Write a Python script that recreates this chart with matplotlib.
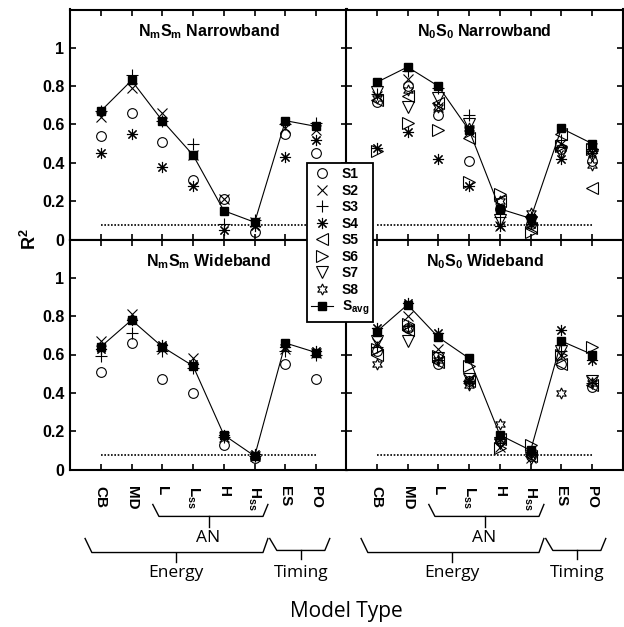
import numpy as np
import matplotlib
matplotlib.use("Agg")
import matplotlib.pyplot as plt
from matplotlib.lines import Line2D

plt.rcParams["font.family"] = ["Liberation Sans", "DejaVu Sans"]
plt.rcParams["mathtext.fontset"] = "custom"
plt.rcParams["mathtext.rm"] = "Liberation Sans"
plt.rcParams["mathtext.bf"] = "Liberation Sans:bold"
plt.rcParams["mathtext.it"] = "Liberation Sans:italic"

# model types on the x axis
models = ["CB", "MD", "L", r"L$_\mathbf{ss}$", "H", r"H$_\mathbf{ss}$", "ES", "PO"]
subjects = ["S1", "S2", "S3", "S4", "S5", "S6", "S7", "S8"]
chance = 0.077

# NmSm narrowband (S1-S4 only)
nm_narrow = [
    [0.54, 0.66, 0.51, 0.31, 0.21, 0.04, 0.55, 0.45],
    [0.64, 0.79, 0.66, 0.44, 0.21, 0.09, 0.58, 0.57],
    [0.67, 0.86, 0.62, 0.50, 0.08, 0.10, 0.60, 0.61],
    [0.45, 0.55, 0.38, 0.28, 0.05, 0.07, 0.43, 0.52],
]
nm_narrow_avg = [0.67, 0.83, 0.62, 0.44, 0.15, 0.09, 0.62, 0.59]

# NmSm wideband (S1-S4 only)
nm_wide = [
    [0.51, 0.66, 0.47, 0.40, 0.13, 0.06, 0.55, 0.47],
    [0.67, 0.81, 0.63, 0.58, 0.17, 0.07, 0.63, 0.61],
    [0.59, 0.71, 0.62, 0.53, 0.17, 0.07, 0.62, 0.60],
    [0.63, 0.78, 0.65, 0.55, 0.18, 0.08, 0.64, 0.62],
]
nm_wide_avg = [0.64, 0.78, 0.64, 0.54, 0.18, 0.07, 0.66, 0.61]

# N0S0 narrowband
n0_narrow = [
    [0.72, 0.80, 0.65, 0.41, 0.16, 0.08, 0.47, 0.41],
    [0.75, 0.84, 0.69, 0.56, 0.07, 0.10, 0.50, 0.48],
    [0.76, 0.88, 0.79, 0.65, 0.12, 0.12, 0.52, 0.46],
    [0.48, 0.56, 0.42, 0.28, 0.07, 0.08, 0.42, 0.45],
    [0.73, 0.75, 0.71, 0.53, 0.20, 0.06, 0.55, 0.27],
    [0.46, 0.61, 0.57, 0.30, 0.24, 0.04, 0.49, 0.47],
    [0.77, 0.69, 0.74, 0.60, 0.10, 0.09, 0.45, 0.44],
    [0.74, 0.78, 0.69, 0.58, 0.20, 0.14, 0.48, 0.39],
]
n0_narrow_avg = [0.82, 0.90, 0.80, 0.57, 0.16, 0.11, 0.58, 0.50]

# N0S0 wideband
n0_wide = [
    [0.62, 0.74, 0.55, 0.46, 0.15, 0.07, 0.55, 0.43],
    [0.66, 0.80, 0.63, 0.47, 0.12, 0.06, 0.60, 0.46],
    [0.64, 0.75, 0.57, 0.45, 0.14, 0.08, 0.62, 0.45],
    [0.74, 0.87, 0.71, 0.46, 0.16, 0.08, 0.73, 0.57],
    [0.60, 0.73, 0.56, 0.46, 0.16, 0.07, 0.55, 0.44],
    [0.63, 0.76, 0.59, 0.54, 0.11, 0.13, 0.60, 0.64],
    [0.67, 0.67, 0.58, 0.47, 0.14, 0.06, 0.62, 0.46],
    [0.55, 0.74, 0.57, 0.44, 0.24, 0.09, 0.40, 0.45],
]
n0_wide_avg = [0.72, 0.86, 0.69, 0.58, 0.18, 0.10, 0.67, 0.60]

titles = [r"N$_\mathbf{m}$S$_\mathbf{m}$ Narrowband", r"N$_\mathbf{0}$S$_\mathbf{0}$ Narrowband",
          r"N$_\mathbf{m}$S$_\mathbf{m}$ Wideband", r"N$_\mathbf{0}$S$_\mathbf{0}$ Wideband"]
panels = [(nm_narrow, nm_narrow_avg), (n0_narrow, n0_narrow_avg),
          (nm_wide, nm_wide_avg), (n0_wide, n0_wide_avg)]

# marker look for each subject
mk = ["o", "x", "+", (8, 2, 0), "<", ">", "v", (6, 1, 0)]
ms = [7, 6.5, 8, 8, 8, 8, 8, 8]

fig = plt.figure(figsize=(6.24, 6.27), dpi=100)
L, M, W = 70 / 624, 346 / 624, 277 / 624
H = 230 / 627
B_top = 1 - 239.5 / 627
pos = [(L, B_top), (M, B_top), (L, B_top - H), (M, B_top - H)]

x = np.arange(1, 9)
axes = []
for i, ((sub, avg), title) in enumerate(zip(panels, titles)):
    ax = fig.add_axes([pos[i][0], pos[i][1], W, H])
    axes.append(ax)
    ax.plot([1, 8], [chance, chance], color="k", lw=1.2, ls=(0, (1, 1)))
    for j, vals in enumerate(sub):
        ax.plot(x, vals, ls="none", marker=mk[j], ms=ms[j], mfc="none",
                mec="k", mew=0.8, color="k")
    ax.plot(x, avg, color="k", lw=0.8, marker="s", ms=6, mfc="k", mec="k")
    ax.text(4.5, 1.06, title, ha="center", va="baseline", fontsize=11.5, fontweight="bold")
    ax.set_xlim(0, 9)
    ax.set_ylim(0, 1.2)
    ax.set_xticks(x)
    ax.set_yticks([0, 0.2, 0.4, 0.6, 0.8, 1.0])
    ax.tick_params(direction="in", length=4, width=1.2, top=True, right=True)
    for s in ax.spines.values():
        s.set_linewidth(1.5)
    if i % 2 == 0:
        ax.set_yticklabels(["0", "0.2", "0.4", "0.6", "0.8", "1"], fontsize=11.5, fontweight="bold")
        ax.tick_params(axis="y", pad=4)
    else:
        ax.set_yticklabels([])
    if i >= 2:
        ax.set_xticklabels(models, rotation=-90, fontsize=11, fontweight="bold")
        ax.tick_params(axis="x", pad=12)
    else:
        ax.set_xticklabels([])


def bracket(ax, xa, xb, xc, xd, xm, yt, yh, yk, label, ylab):
    tr = ax.get_xaxis_transform()
    ax.plot([xa, xb, xc, xd], [yt, yh, yh, yt], color="k", lw=1, transform=tr, clip_on=False)
    ax.plot([xm, xm], [yh, yk], color="k", lw=1, transform=tr, clip_on=False)
    ax.text(xm, ylab, label, transform=tr, ha="center", va="center",
            fontsize=12.5, family=["Open Sans", "DejaVu Sans"])


for ax in axes[2:]:
    bracket(ax, 2.69, 2.89, 6.27, 6.43, 4.5, -0.152, -0.204, -0.248, "AN", -0.296)
    bracket(ax, 0.49, 0.71, 6.27, 6.43, 3.45, -0.30, -0.361, -0.40, "Energy", -0.448)
    bracket(ax, 6.49, 6.72, 8.28, 8.44, 7.5, -0.30, -0.352, -0.39, "Timing", -0.448)

fig.text(0.048, B_top, r"R$^\mathbf{2}$", rotation=90, ha="center", va="center",
         fontsize=13, fontweight="bold")
fig.text(M, 1 - 612 / 627, "Model Type", ha="center", va="center", fontsize=15,
         family=["Open Sans", "DejaVu Sans"])

handles = [Line2D([], [], ls="none", marker=mk[j], ms=ms[j], mfc="none", mec="k", mew=0.8)
           for j in range(8)]
handles.append(Line2D([], [], color="k", lw=0.8, marker="s", ms=6, mfc="k", mec="k"))
labels = subjects + [r"S$_\mathbf{avg}$"]
leg = fig.legend(handles, labels, loc="upper left", bbox_to_anchor=(307 / 624, 1 - 163 / 627),
                 frameon=True, fancybox=False, edgecolor="k", framealpha=1,
                 prop={"weight": "bold", "size": 10}, handlelength=1.6,
                 handletextpad=0.6, labelspacing=0.18, borderpad=0.3, borderaxespad=0)
leg.get_frame().set_linewidth(1.3)

fig.savefig("out.png", dpi=100)
